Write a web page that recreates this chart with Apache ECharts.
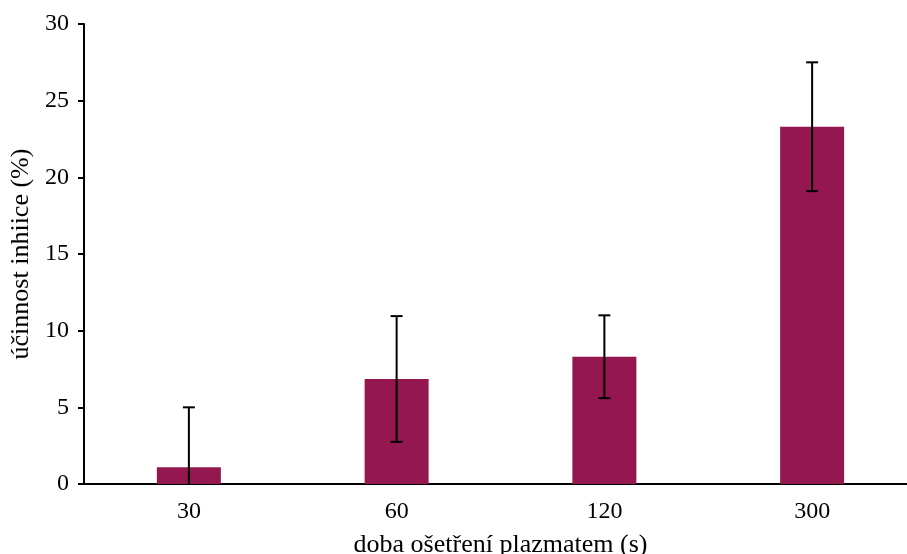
<!DOCTYPE html>
<html>
<head>
<meta charset="utf-8">
<script src="https://cdn.jsdelivr.net/npm/echarts@6/dist/echarts.min.js"></script>
<style>
  html, body { margin: 0; padding: 0; background: #ffffff; }
  #chart { width: 907px; height: 554px; }
</style>
</head>
<body>
<div id="chart"></div>
<script>
// Plasma treatment time (s) and inhibition efficiency (%)
const categories = ['30', '60', '120', '300'];
const means = [1.1, 6.85, 8.3, 23.3];
const errors = [3.9, 4.1, 2.7, 4.2];
const yTicks = { min: 0, max: 30, interval: 5 };

const barColor = '#951750';
const font = '"Liberation Serif", "Times New Roman", serif';

const errorData = categories.map((c, i) => [i, means[i] - errors[i], means[i] + errors[i]]);

const chart = echarts.init(document.getElementById('chart'));
chart.setOption({
  animation: false,
  backgroundColor: '#ffffff',
  grid: {
    left: 85, top: 24, width: 831, bottom: 70,
    containLabel: false,
    outerBoundsMode: 'none'
  },
  xAxis: {
    type: 'category',
    data: categories,
    name: 'doba ošetření plazmatem (s)',
    nameLocation: 'middle',
    nameGap: 48,
    nameTextStyle: { fontFamily: font, fontSize: 26, color: '#000' },
    axisLine: { lineStyle: { color: '#000', width: 2 } },
    axisTick: { show: false },
    axisLabel: { fontFamily: font, fontSize: 24, color: '#000', margin: 16 }
  },
  yAxis: {
    type: 'value',
    min: yTicks.min,
    max: yTicks.max,
    interval: yTicks.interval,
    offset: 1,
    name: 'účinnost inhiice (%)',
    nameLocation: 'middle',
    nameGap: 42,
    nameRotate: 90,
    nameTextStyle: { fontFamily: font, fontSize: 26, color: '#000' },
    axisLine: { show: true, lineStyle: { color: '#000', width: 2 } },
    axisTick: { show: true, length: 6, lineStyle: { color: '#000', width: 2 } },
    axisLabel: { fontFamily: font, fontSize: 24, color: '#000', margin: 15 },
    splitLine: { show: false }
  },
  series: [
    {
      type: 'bar',
      data: means,
      barWidth: 64,
      itemStyle: { color: barColor }
    },
    {
      type: 'custom',
      clip: true,
      z: 10,
      data: errorData,
      renderItem: function (params, api) {
        const x = api.value(0);
        const lo = api.coord([x, api.value(1)]);
        const hi = api.coord([x, api.value(2)]);
        const cap = 6;
        const style = { stroke: '#000', lineWidth: 2 };
        return {
          type: 'group',
          children: [
            { type: 'line', shape: { x1: hi[0], y1: hi[1], x2: lo[0], y2: lo[1] }, style },
            { type: 'line', shape: { x1: hi[0] - cap, y1: hi[1], x2: hi[0] + cap, y2: hi[1] }, style },
            { type: 'line', shape: { x1: lo[0] - cap, y1: lo[1], x2: lo[0] + cap, y2: lo[1] }, style }
          ]
        };
      }
    }
  ]
});
</script>
</body>
</html>
